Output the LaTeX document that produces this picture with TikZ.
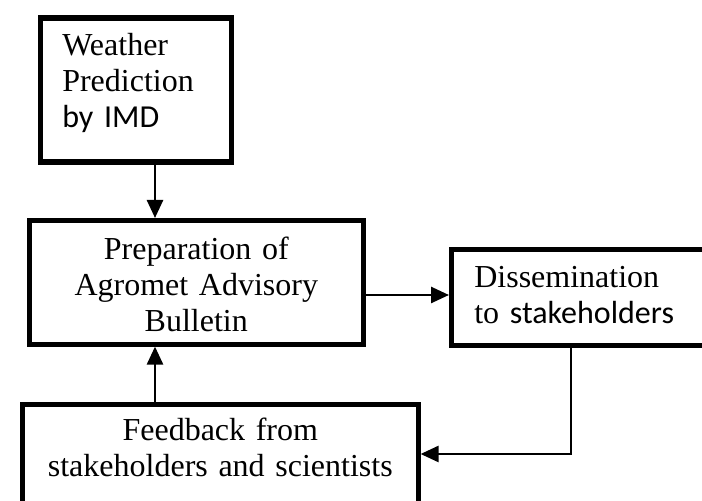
\documentclass[tikz,border=0pt]{standalone}
\usepackage{fontspec}
\setmainfont{Liberation Serif}
\newfontfamily\cb{Carlito}
\usetikzlibrary{arrows.meta}
\begin{document}
\begin{tikzpicture}[x=0.5pt,y=-0.5pt,
  font=\fontsize{16}{18}\selectfont,
  box/.style={draw=black, line width=2.3pt, fill=white, inner ysep=6pt},
  arr/.style={line width=1.3pt, -{Triangle[length=9pt,width=8pt]}}]
\clip (0,0) rectangle (702,501);
\fill[white] (0,0) rectangle (702,501);
% boxes
\node[box, line width=2.8pt, anchor=north west, inner xsep=11pt, text width=73.5pt,
      align=left, text height=12.75pt, text depth=47.25pt] (wp) at (37.5,15.5)
      {Weather\\Prediction\\{\cb by IMD}};
\node[box, anchor=north west, inner xsep=6pt, text width=155pt, align=center,
      text height=13.5pt, text depth=36.5pt] (prep) at (27,218)
      {Preparation of\\Agromet Advisory\\Bulletin};
\node[box, anchor=north west, inner xsep=11.5pt, text width=127pt, align=left,
      text height=13pt, text depth=23pt] (diss) at (449,247)
      {Dissemination\\to {\cb stakeholders}};
\node[box, anchor=north west, inner xsep=6pt, text width=186pt, align=center,
      text height=12pt, text depth=50pt] (fb) at (20,402)
      {Feedback from\\stakeholders and scientists};
% connectors
\coordinate (ax) at (155,0);
\coordinate (hr) at (400,295);
\coordinate (turn) at (571,454);
\draw[arr] (wp.south -| ax) -- (prep.north -| ax);
\draw[arr] (fb.north -| ax) -- (prep.south -| ax);
\draw[arr] (prep.east |- hr) -- (diss.west |- hr);
\draw[arr] (diss.south -| turn) -- (turn) -- (fb.east |- turn);
\end{tikzpicture}
\end{document}
